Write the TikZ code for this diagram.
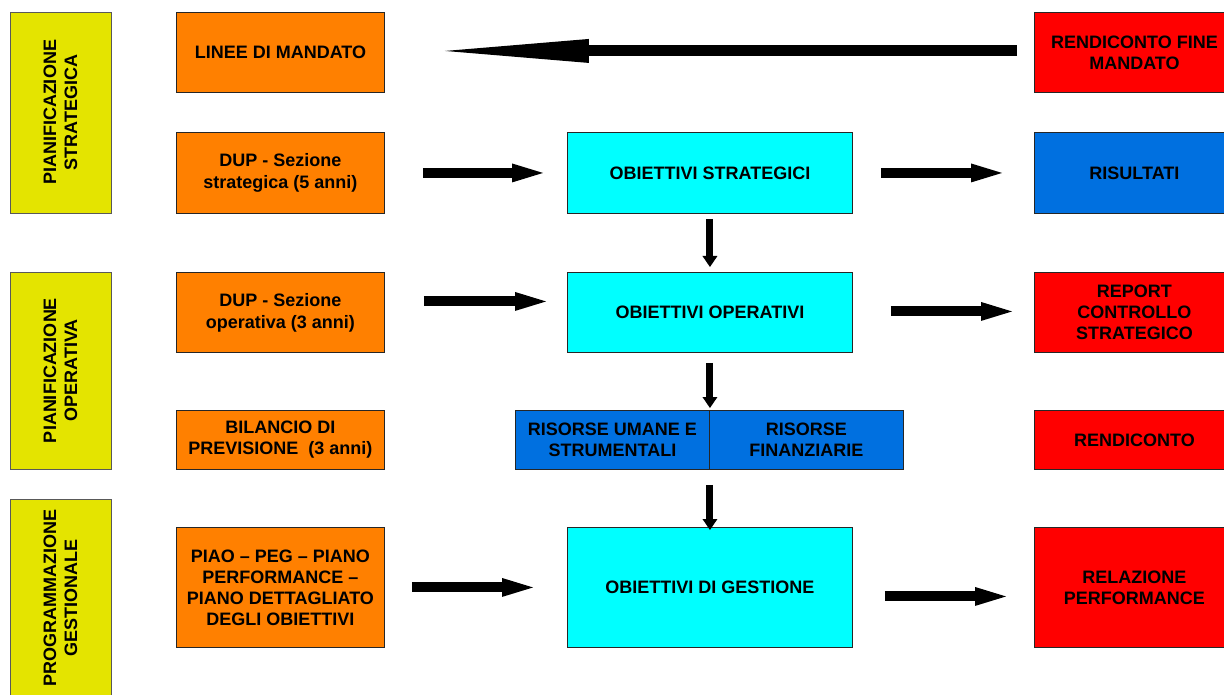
\documentclass[tikz,border=0pt]{standalone}
\usepackage{fontspec}
\setmainfont{Liberation Sans}
\usetikzlibrary{arrows.meta}
\definecolor{yel}{RGB}{228,228,0}
\definecolor{org}{RGB}{255,128,0}
\definecolor{cy}{RGB}{0,255,255}
\definecolor{bl}{RGB}{0,112,224}
\definecolor{rd}{RGB}{255,0,0}
\begin{document}
\begin{tikzpicture}[x=1pt,y=-1pt,
  box/.style={draw=black!85, line width=0.9pt, inner sep=0pt, align=center,
    font=\fontsize{18}{21}\selectfont\bfseries, anchor=north west},
  sidebox/.style={box, fill=yel, draw=black!65, rotate=90, anchor=center, minimum height=101pt},
  orgbox/.style={box, fill=org, minimum width=208pt},
  cybox/.style={box, fill=cy, minimum width=285pt},
  rightbox/.style={box, minimum width=200pt},
  harrow/.style={line width=10pt, -{Triangle[length=31pt,width=19pt,line width=0pt]}},
  varrow/.style={line width=7pt, -{Triangle[length=11pt,width=15pt,line width=0pt]}},
  bigarrow/.style={line width=11pt, -{Triangle[length=144pt,width=24pt,line width=0pt]}}
]
\useasboundingbox (0,0) rectangle (1224,695);
\clip (0,0) rectangle (1224,695);

% left side boxes
\node[sidebox, minimum width=201pt] (y1) at (60.5,112.5) {PIANIFICAZIONE\\STRATEGICA};
\node[sidebox, minimum width=197pt] (y2) at (60.5,370.5) {PIANIFICAZIONE\\OPERATIVA};
\node[sidebox, minimum width=198pt] (y3) at (60.5,598) {PROGRAMMAZIONE\\GESTIONALE};

% orange boxes
\node[orgbox, minimum height=80pt] (o1) at (176,12) {LINEE DI MANDATO};
\node[orgbox, minimum height=81pt] (o2) at (176,132) {DUP - Sezione\\[1pt]strategica (5 anni)};
\node[orgbox, minimum height=80pt] (o3) at (176,272) {DUP - Sezione\\[1pt]operativa (3 anni)};
\node[orgbox, minimum height=59pt] (o4) at (176,410) {BILANCIO DI\\PREVISIONE\ \ (3 anni)};
\node[orgbox, minimum height=120pt] (o5) at (176,527) {PIAO – PEG – PIANO\\PERFORMANCE –\\PIANO DETTAGLIATO\\DEGLI OBIETTIVI};

% cyan boxes
\node[cybox, minimum height=81pt] (c1) at (567,132) {OBIETTIVI STRATEGICI};
\node[cybox, minimum height=80pt] (c2) at (567,272) {OBIETTIVI OPERATIVI};
\node[cybox, minimum height=120pt] (c3) at (567,527) {OBIETTIVI DI GESTIONE};

% resources
\node[box, fill=bl, minimum width=194pt, minimum height=59pt] (rl) at (515,410) {RISORSE UMANE E\\STRUMENTALI};
\node[box, fill=bl, minimum width=194pt, minimum height=59pt] (rr) at (709,410) {RISORSE\\FINANZIARIE};

% right boxes
\node[rightbox, fill=rd, minimum height=80pt] (r1) at (1034,12) {RENDICONTO FINE\\MANDATO};
\node[rightbox, fill=bl, minimum height=81pt] (r2) at (1034,132) {RISULTATI};
\node[rightbox, fill=rd, minimum height=80pt] (r3) at (1034,272) {REPORT\\CONTROLLO\\STRATEGICO};
\node[rightbox, fill=rd, minimum height=59pt] (r4) at (1034,410) {RENDICONTO};
\node[rightbox, fill=rd, minimum height=120pt] (r5) at (1034,527) {RELAZIONE\\PERFORMANCE};

% arrows
\draw[bigarrow] ([xshift=-17pt,yshift=1.5pt]r1.west) -- ([xshift=60pt,yshift=1.5pt]o1.east);
\draw[harrow] ([xshift=38pt]o2.east) -- ([xshift=-24pt]c1.west);
\draw[harrow] ([xshift=28pt]c1.east) -- ([xshift=-32pt]r2.west);
\draw[varrow, shorten <=5pt, shorten >=5pt] (c1.south) -- (c2.north);
\draw[harrow] ([xshift=39pt,yshift=11pt]o3.east) -- ([xshift=-21pt,yshift=11pt]c2.west);
\draw[harrow] ([xshift=38pt,yshift=1pt]c2.east) -- ([xshift=-22pt,yshift=1pt]r3.west);
\draw[varrow, shorten <=10pt, shorten >=2pt] (c2.south) -- (c2.south |- rl.north east);
\draw[varrow, shorten <=15pt, shorten >=-3pt] (c3.north |- rl.south east) -- (c3.north);
\draw[harrow] ([xshift=27pt]o5.east) -- ([xshift=-34pt]c3.west);
\draw[harrow] ([xshift=32pt,yshift=-9pt]c3.east) -- ([xshift=-28pt,yshift=-9pt]r5.west);
\end{tikzpicture}
\end{document}
